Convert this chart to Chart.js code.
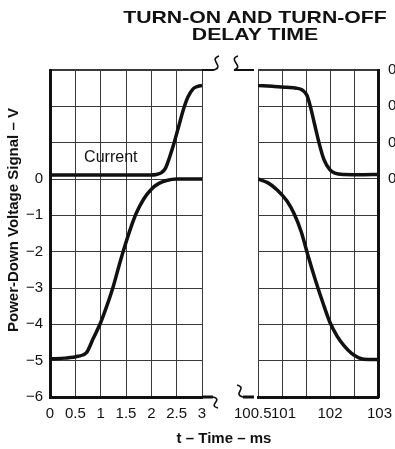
<!DOCTYPE html>
<html>
<head>
<meta charset="utf-8">
<script src="https://cdn.jsdelivr.net/npm/chart.js@4.4.0/dist/chart.umd.min.js"></script>
<style>
  html, body { margin: 0; padding: 0; background: #fff; overflow: hidden; }
  #wrap { position: relative; width: 395px; height: 449px; overflow: hidden;
          font-family: "Liberation Sans", Arial, sans-serif; color: #111; }
  canvas { position: absolute; top: 0; }
  #onChart { left: 0; }
  #offChart { left: 226px; }
  #title { position: absolute; left: 135px; top: 10px; width: 240px; text-align: center;
           font-weight: bold; font-size: 17px; line-height: 16.5px; white-space: nowrap;
           transform: scaleX(1.25); }
  #ytitle { position: absolute; left: -137.5px; top: 211px; width: 300px; height: 18px;
            line-height: 18px; text-align: center; font-weight: bold; font-size: 15px;
            white-space: nowrap; transform: rotate(-90deg); }
  #xtitle { position: absolute; left: 124px; top: 429px; width: 200px; text-align: center;
            font-weight: bold; font-size: 15px; line-height: 18px; white-space: nowrap; }
</style>
</head>
<body>
<div id="wrap">
  <canvas id="onChart" width="226" height="449"></canvas>
  <canvas id="offChart" width="204" height="449"></canvas>
  <div id="title">TURN-ON AND TURN-OFF<br>DELAY TIME</div>
  <div id="ytitle">Power-Down Voltage Signal – V</div>
  <div id="xtitle">t – Time – ms</div>
</div>
<script>
// turn-on side (t in ms, 0..3)
const onTime     = [0, 0.3, 0.55, 0.72, 0.85, 1.0, 1.12, 1.25, 1.35, 1.45, 1.58, 1.7, 1.85, 2.0, 2.15, 2.3, 2.5, 3.0];
const onVoltage  = [-4.95, -4.93, -4.88, -4.78, -4.4, -3.95, -3.5, -2.95, -2.45, -1.97, -1.4, -0.95, -0.55, -0.28, -0.12, -0.04, 0, 0];
const onCurTime  = [0, 1.0, 2.0, 2.1, 2.2, 2.28, 2.36, 2.45, 2.55, 2.63, 2.72, 2.82, 2.92, 3.0];
const onCurrent  = [0.022, 0.022, 0.022, 0.025, 0.035, 0.06, 0.12, 0.2, 0.3, 0.38, 0.45, 0.495, 0.51, 0.515];

// turn-off side (t in ms, 100.5..103)
const offTime    = [100.5, 100.7, 100.9, 101.1, 101.25, 101.4, 101.55, 101.7, 101.85, 102.0, 102.15, 102.3, 102.45, 102.6, 102.8, 103];
const offVoltage = [0, -0.1, -0.3, -0.6, -0.95, -1.45, -2.15, -2.8, -3.4, -3.95, -4.33, -4.6, -4.8, -4.92, -4.97, -4.97];
const offCurTime = [100.5, 100.8, 101.1, 101.3, 101.42, 101.52, 101.59, 101.68, 101.77, 101.87, 102.0, 102.1, 102.3, 102.7, 103];
const offCurrent = [0.514, 0.51, 0.505, 0.5, 0.49, 0.46, 0.4, 0.3, 0.2, 0.11, 0.05, 0.032, 0.025, 0.024, 0.025];

// tick labels
const offTickValues = [100.5, 101, 102, 103];
const currentTicks  = [0, 0.2, 0.4, 0.6];

Chart.defaults.font.family = '"Liberation Sans", Arial, sans-serif';
Chart.defaults.font.size = 15;
Chart.defaults.color = '#111';

const gridColor = '#3a3a3a';
const ink = '#111';

const toPoints = (xs, ys) => ys.map((y, i) => ({ x: xs[i], y }));

const lineStyle = {
  borderColor: ink,
  borderWidth: 3.5,
  pointRadius: 0,
  fill: false,
  cubicInterpolationMode: 'monotone'
};

function drawS(ctx, x0, y0, x1, y1) {
  const dy = y1 - y0;
  ctx.beginPath();
  ctx.moveTo(x0, y0);
  ctx.bezierCurveTo(x0 + 11, y0 + dy * 0.25, x1 - 11, y1 - dy * 0.25, x1, y1);
  ctx.stroke();
}

// axis stubs and the "S" break marks in the gap between the two panels
const breakMarks = {
  id: 'breakMarks',
  afterDraw(chart, args, opts) {
    const ctx = chart.ctx;
    const { top, bottom } = chart.chartArea;
    ctx.save();
    ctx.strokeStyle = ink;
    ctx.lineWidth = 2;
    ctx.beginPath(); ctx.moveTo(opts.topStub[0], top); ctx.lineTo(opts.topStub[1], top); ctx.stroke();
    ctx.lineWidth = 3;
    ctx.beginPath(); ctx.moveTo(opts.bottomStub[0], bottom); ctx.lineTo(opts.bottomStub[1], bottom); ctx.stroke();
    ctx.lineWidth = 1.6;
    opts.marks.forEach(m => drawS(ctx, m[0], m[1], m[2], m[3]));
    ctx.restore();
  }
};

const currentLabel = {
  id: 'currentLabel',
  afterDatasetsDraw(chart) {
    const ctx = chart.ctx;
    ctx.save();
    ctx.font = '16px "Liberation Sans", Arial, sans-serif';
    ctx.fillStyle = ink;
    ctx.textAlign = 'center';
    ctx.textBaseline = 'middle';
    ctx.fillText('Current', chart.scales.x.getPixelForValue(1.2), chart.scales.y.getPixelForValue(0.6));
    ctx.restore();
  }
};

const minus = v => String(v).replace('-', '\u2212');

new Chart(document.getElementById('onChart'), {
  type: 'line',
  data: {
    datasets: [
      { ...lineStyle, data: toPoints(onTime, onVoltage), yAxisID: 'y' },
      { ...lineStyle, data: toPoints(onCurTime, onCurrent), yAxisID: 'yCur' }
    ]
  },
  options: {
    responsive: false,
    animation: false,
    layout: { padding: { top: 70, right: 24, bottom: 0, left: 0 } },
    plugins: {
      legend: { display: false },
      tooltip: { enabled: false },
      breakMarks: {
        topStub: [202, 214],
        bottomStub: [202, 213],
        marks: [[214, 70, 219, 56], [213, 397, 218, 408]]
      }
    },
    scales: {
      x: {
        type: 'linear', min: 0, max: 3,
        ticks: { stepSize: 0.5, autoSkip: false, maxRotation: 0, padding: 8,
                 callback: v => String(Math.round(v * 10) / 10) },
        grid: { color: gridColor, lineWidth: 1, drawTicks: false },
        border: { color: ink, width: 3 },
        afterFit(s) { s.height = 52; }
      },
      y: {
        type: 'linear', position: 'left', min: -6, max: 3,
        ticks: { stepSize: 1, padding: 7, callback: v => v > 0 ? '' : minus(v) },
        grid: { color: gridColor, lineWidth: c => (c.tick && c.tick.value === 3) ? 2 : 1, drawTicks: false },
        border: { color: ink, width: 3 },
        afterFit(s) { s.width = 50; }
      },
      yCur: { type: 'linear', display: false, min: -1.2, max: 0.6 }
    }
  },
  plugins: [breakMarks, currentLabel]
});

new Chart(document.getElementById('offChart'), {
  type: 'line',
  data: {
    datasets: [
      { ...lineStyle, data: toPoints(offTime, offVoltage), yAxisID: 'y' },
      { ...lineStyle, data: toPoints(offCurTime, offCurrent), yAxisID: 'yCur' }
    ]
  },
  options: {
    responsive: false,
    animation: false,
    layout: { padding: { top: 70, right: 0, bottom: 0, left: 28 } },
    plugins: {
      legend: { display: false },
      tooltip: { enabled: false },
      breakMarks: {
        topStub: [8, 28],
        bottomStub: [17, 28],
        marks: [[8, 70, 12, 56], [11, 385, 17, 397]]
      }
    },
    scales: {
      x: {
        type: 'linear', min: 100.5, max: 103,
        ticks: {
          stepSize: 0.5, autoSkip: false, maxRotation: 0, padding: 8,
          callback: v => {
            const hit = offTickValues.find(t => Math.abs(t - v) < 1e-6);
            if (hit === undefined) return '';
            if (hit === 100.5) return '100.5\u2002\u2009';
            if (hit === 102) return '102';
            return '\u2009' + hit;
          }
        },
        grid: { color: gridColor, lineWidth: 1, drawTicks: false },
        border: { color: ink, width: 3 },
        afterFit(s) { s.height = 52; }
      },
      y: { type: 'linear', display: false, min: -6, max: 3 },
      yCur: {
        type: 'linear', position: 'right', min: -1.2, max: 0.6,
        ticks: {
          stepSize: 0.2, padding: 10,
          callback: v => {
            const hit = currentTicks.find(t => Math.abs(t - v) < 1e-6);
            return hit === undefined ? '' : String(hit);
          }
        },
        grid: { color: gridColor, lineWidth: c => (c.tick && c.tick.value > 0.59) ? 2 : 1, drawTicks: false },
        border: { color: ink, width: 3 },
        afterFit(s) { s.width = 52; }
      }
    }
  },
  plugins: [breakMarks]
});
</script>
</body>
</html>
